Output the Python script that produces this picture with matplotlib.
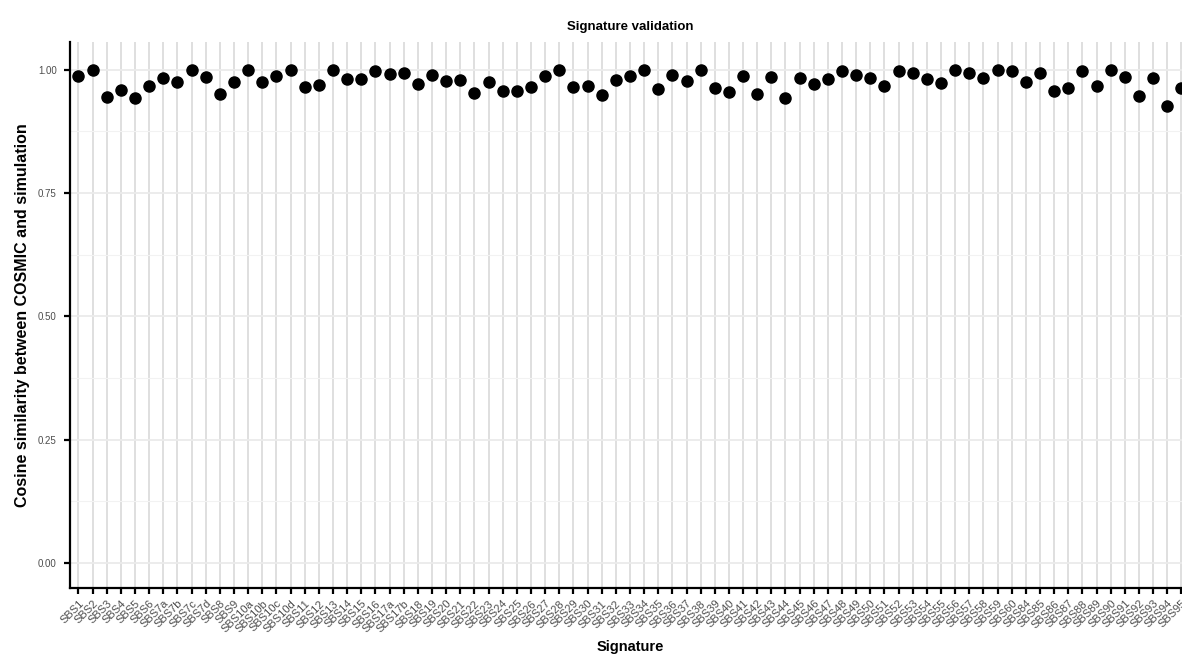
import matplotlib
matplotlib.use("Agg")
import matplotlib.pyplot as plt
import numpy as np

plt.rcParams['font.family'] = ['Liberation Sans', 'DejaVu Sans']

# COSMIC SBS signatures (v3.3 order)
signatures = (
    ["SBS1", "SBS2", "SBS3", "SBS4", "SBS5", "SBS6",
     "SBS7a", "SBS7b", "SBS7c", "SBS7d", "SBS8", "SBS9",
     "SBS10a", "SBS10b", "SBS10c", "SBS10d",
     "SBS11", "SBS12", "SBS13", "SBS14", "SBS15", "SBS16",
     "SBS17a", "SBS17b"]
    + ["SBS%d" % i for i in range(18, 61)]
    + ["SBS%d" % i for i in range(84, 96)]
)

cosine_sim = [
    0.987, 0.999, 0.945, 0.958, 0.943, 0.967, 0.982, 0.974, 0.999, 0.984,
    0.950, 0.975, 1.000, 0.974, 0.986, 0.999, 0.965, 0.969, 1.000, 0.981,
    0.981, 0.997, 0.991, 0.994, 0.971, 0.989, 0.977, 0.978, 0.952, 0.975,
    0.957, 0.956, 0.965, 0.987, 0.999, 0.964, 0.967, 0.948, 0.978, 0.987,
    1.000, 0.960, 0.989, 0.977, 0.999, 0.963, 0.955, 0.987, 0.950, 0.985,
    0.942, 0.983, 0.970, 0.980, 0.997, 0.990, 0.982, 0.967, 0.998, 0.993,
    0.980, 0.972, 1.000, 0.993, 0.983, 0.999, 0.998, 0.975, 0.993, 0.956,
    0.962, 0.998, 0.967, 0.999, 0.985, 0.947, 0.983, 0.926, 0.962,
]

y_ticks = [0.0, 0.25, 0.5, 0.75, 1.0]
y_tick_labels = ["0.00", "0.25", "0.50", "0.75", "1.00"]

fig = plt.figure(figsize=(11.82, 6.59), dpi=100)
ax = fig.add_axes([0.0592, 0.1077, 0.9475, 0.8285])

x = np.arange(len(signatures))

# grid
for xi in x:
    ax.axvline(xi, color='#dcdcdc', lw=1.3, zorder=0)
for yv in y_ticks:
    ax.axhline(yv, color='#ebebeb', lw=1.3, zorder=0)
for yv in [0.125, 0.375, 0.625, 0.875]:
    ax.axhline(yv, color='#f2f2f2', lw=0.8, zorder=0)

ax.plot(x, cosine_sim, 'o', color='black', ms=8, zorder=3)

ax.set_xlim(-0.6, len(signatures) - 1 + 0.6)
ax.set_ylim(-0.0507, 1.0558)

ax.set_xticks(x)
ax.set_xticklabels(signatures, rotation=45, ha='right', rotation_mode='anchor',
                   fontsize=8, color='#4d4d4d')
ax.set_yticks(y_ticks)
ax.set_yticklabels(y_tick_labels, fontsize=7, color='#4d4d4d')

for s in ['top', 'right']:
    ax.spines[s].set_visible(False)
for s in ['left', 'bottom']:
    ax.spines[s].set_linewidth(1.6)
    ax.spines[s].set_color('black')
ax.tick_params(axis='both', length=4.5, width=1.6, color='black')
ax.tick_params(axis='x', pad=3)
ax.tick_params(axis='y', pad=5)

ax.set_xlabel("Signature", fontsize=10.5, fontweight='bold', labelpad=4)
ax.set_ylabel("Cosine similarity between COSMIC and simulation", fontsize=11.5,
              fontweight='bold', labelpad=6)
ax.set_title("Signature validation", fontsize=9.5, fontweight='bold', pad=9)

fig.savefig("out.png", dpi=100)
